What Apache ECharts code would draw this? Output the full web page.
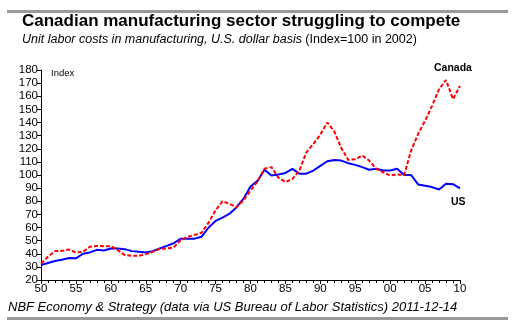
<!DOCTYPE html>
<html><head><meta charset="utf-8">
<script src="https://cdn.jsdelivr.net/npm/echarts@6/dist/echarts.min.js"></script>
<style>html,body{margin:0;padding:0;background:#fff}#c{width:517px;height:324px}</style>
</head><body><div id="c"></div>
<script>
const years = [1950,1951,1952,1953,1954,1955,1956,1957,1958,1959,1960,1961,1962,1963,1964,1965,1966,1967,1968,1969,1970,1971,1972,1973,1974,1975,1976,1977,1978,1979,1980,1981,1982,1983,1984,1985,1986,1987,1988,1989,1990,1991,1992,1993,1994,1995,1996,1997,1998,1999,2000,2001,2002,2003,2004,2005,2006,2007,2008,2009,2010];
const us = [31.4,33,34.5,35.5,36.8,36.5,40,41,43,42.5,44,44,43.5,42,41.5,41,42,44,46,48,51.5,51.5,51.5,53,60,65,67.5,70.5,75.5,82,91.3,95.5,104,99.6,100.4,101.6,104.7,101,101,103.4,107,110.5,111.5,111,109,107.7,106,104,104.7,103.4,103.4,104.7,100,100,92.8,91.8,90.8,89,93.3,93,89.8];
const canada = [32.6,37.7,42,42.2,43.2,41,41.5,45.3,46,45.8,45.8,42.7,39,38.4,38.4,39.7,41.5,43.8,44,44.8,50.3,52.9,54.4,56,63.7,73,80,78,75.5,80.7,88.2,95,104.7,106,98,94.6,97,103.4,117.3,123.6,130.7,140,133.2,120.6,111.5,112,114.8,111,104.7,102.1,99.6,100.4,100,118.6,131.2,141.3,152.7,165.3,172.4,157.8,167.9];
const yTicks = {min:20, max:180, interval:10};
const xTicks = {min:1950, max:2010, interval:5};

const chart = echarts.init(document.getElementById('c'), null, {renderer:'canvas'});
const font = 'Liberation Sans, Arial, sans-serif';
chart.setOption({
  animation:false,
  backgroundColor:'#fff',
  title:{
    left:22, top:13, itemGap:3, padding:0,
    text:'Canadian manufacturing sector struggling to compete',
    textStyle:{fontFamily:font,fontSize:17,fontWeight:'bold',color:'#000'},
    subtext:'{i|Unit labor costs in manufacturing, U.S. dollar basis} {n|(Index=100 in 2002)}',
    subtextStyle:{rich:{
      i:{fontFamily:font,fontSize:12.5,fontStyle:'italic',color:'#000'},
      n:{fontFamily:font,fontSize:12.5,color:'#000'}
    }}
  },
  grid:{left:41, right:57, top:70, bottom:44},
  xAxis:{
    type:'value', min:xTicks.min, max:xTicks.max, interval:xTicks.interval,
    axisLine:{lineStyle:{color:'#000',width:1}},
    axisTick:{show:true,length:4,lineStyle:{color:'#000'}},
    minorTick:{show:true,splitNumber:5,length:3,lineStyle:{color:'#000'}},
    splitLine:{show:false},
    axisLabel:{fontFamily:font,fontSize:11.5,color:'#000',margin:3,
      formatter:v=>String(v%100).padStart(2,'0')}
  },
  yAxis:{
    type:'value', min:yTicks.min, max:yTicks.max, interval:yTicks.interval,
    axisLine:{show:true,lineStyle:{color:'#000',width:1}},
    axisTick:{show:true,length:4,lineStyle:{color:'#000'}},
    splitLine:{show:false},
    axisLabel:{fontFamily:font,fontSize:11.5,color:'#000',margin:3}
  },
  series:[
    {name:'US',type:'line',data:years.map((y,i)=>[y,us[i]]),showSymbol:false,
      lineStyle:{color:'#0000ff',width:2},z:2},
    {name:'Canada',type:'line',data:years.map((y,i)=>[y,canada[i]]),showSymbol:false,
      lineStyle:{color:'#ff0000',width:2,type:[4,2]},z:3}
  ],
  graphic:[
    {type:'rect',shape:{x:7,y:10,width:501,height:3},style:{fill:'#999'}},
    {type:'rect',shape:{x:7,y:317,width:501,height:3},style:{fill:'#999'}},
    {type:'text',left:8,top:301,style:{text:'NBF Economy & Strategy (data via US Bureau of Labor Statistics) 2011-12-14',font:'italic 13px '+font,fill:'#000'}},
    {type:'text',left:51,top:68,style:{text:'Index',font:'9.5px '+font,fill:'#000'}},
    {type:'text',left:434,top:63,style:{text:'Canada',font:'bold 10.5px '+font,fill:'#000'}},
    {type:'text',left:451,top:197,style:{text:'US',font:'bold 10.5px '+font,fill:'#000'}}
  ]
});
</script></body></html>
